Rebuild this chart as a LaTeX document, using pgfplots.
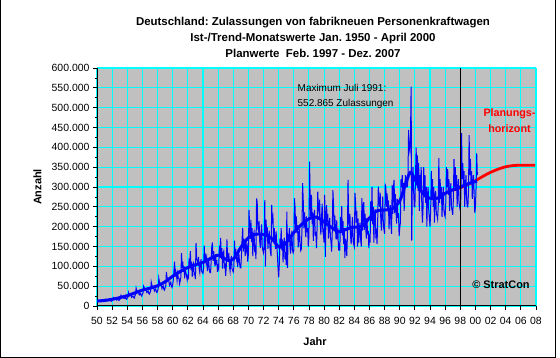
\documentclass[border=0pt]{standalone}
\usepackage{pgfplots}
\pgfplotsset{compat=1.18}
\usepackage{pgfplotstable}
\usepackage{fontspec}
\setmainfont{Liberation Sans}
\frenchspacing
\definecolor{plotbg}{HTML}{C0C0C0}
\definecolor{gridc}{HTML}{00FFFF}
\definecolor{frameg}{HTML}{808080}
\definecolor{dblue}{HTML}{0000FF}
\definecolor{dred}{HTML}{FF0000}

% monthly registrations, thousands, Jan 1950 - Apr 2000 (one line per year)
\pgfplotstableread[row sep=\\]{
v\\
10\\11\\13\\13\\13\\12\\12\\11\\12\\13\\12\\11\\
12\\13\\17\\16\\15\\15\\14\\13\\14\\15\\13\\12\\
14\\15\\21\\19\\18\\17\\17\\15\\16\\17\\15\\14\\
17\\18\\27\\24\\23\\22\\21\\19\\20\\21\\18\\17\\
20\\22\\34\\29\\28\\27\\26\\22\\24\\25\\22\\20\\
25\\28\\45\\38\\36\\34\\33\\28\\30\\32\\27\\25\\
30\\33\\50\\46\\43\\41\\40\\34\\36\\38\\32\\30\\
34\\37\\60\\52\\50\\47\\45\\38\\41\\43\\36\\34\\
39\\43\\70\\60\\58\\55\\53\\44\\48\\51\\42\\40\\
46\\51\\86\\72\\70\\65\\62\\52\\56\\60\\50\\47\\
54\\66\\90\\112\\74\\86\\78\\64\\82\\70\\70\\56\\
64\\72\\133\\96\\112\\86\\100\\70\\92\\84\\76\\66\\
76\\72\\120\\98\\138\\92\\112\\74\\104\\108\\80\\82\\
68\\159\\120\\114\\108\\124\\94\\84\\104\\118\\88\\84\\
82\\94\\152\\114\\132\\110\\120\\88\\104\\116\\92\\84\\
84\\112\\150\\160\\114\\138\\120\\100\\130\\108\\112\\86\\
100\\94\\152\\126\\172\\120\\146\\94\\132\\138\\100\\104\\
76\\100\\168\\124\\118\\134\\100\\88\\110\\126\\94\\90\\
86\\98\\165\\122\\144\\122\\134\\98\\118\\132\\108\\96\\
96\\128\\168\\197\\138\\170\\150\\126\\168\\142\\150\\112\\
130\\242\\200\\170\\217\\162\\196\\126\\178\\186\\136\\146\\
118\\271\\262\\196\\190\\214\\162\\146\\180\\206\\150\\140\\
134\\152\\267\\99\\218\\180\\198\\144\\170\\190\\152\\136\\
126\\255\\216\\224\\162\\196\\172\\144\\188\\154\\130\\96\\
72\\104\\170\\148\\196\\140\\168\\110\\156\\172\\118\\136\\
104\\238\\96\\176\\170\\196\\150\\132\\166\\190\\140\\134\\
140\\272\\250\\190\\226\\184\\204\\148\\176\\194\\156\\140\\
144\\194\\310\\266\\196\\236\\204\\174\\226\\186\\196\\150\\
176\\364\\264\\222\\280\\208\\236\\164\\230\\242\\176\\186\\
146\\200\\288\\246\\236\\268\\202\\180\\224\\258\\190\\180\\
160\\280\\124\\226\\254\\212\\232\\170\\200\\222\\176\\160\\
137\\186\\292\\256\\188\\228\\198\\168\\216\\178\\186\\140\\
150\\140\\224\\186\\252\\178\\214\\156\\196\\121\\170\\158\\
126\\176\\318\\214\\204\\232\\176\\156\\194\\224\\164\\156\\
150\\285\\260\\210\\240\\150\\220\\160\\190\\210\\168\\150\\
272\\190\\250\\262\\192\\232\\200\\170\\222\\180\\190\\146\\
170\\160\\264\\214\\300\\206\\250\\160\\232\\244\\178\\186\\
156\\212\\301\\262\\250\\286\\214\\190\\240\\276\\204\\192\\
182\\305\\300\\250\\284\\240\\266\\194\\230\\254\\206\\182\\
305\\232\\300\\318\\234\\282\\246\\208\\270\\222\\234\\176\\
196\\210\\320\\300\\330\\280\\310\\240\\290\\330\\300\\300\\
300\\320\\444\\400\\390\\420\\553\\165\\320\\350\\290\\250\\
250\\330\\400\\310\\380\\290\\360\\240\\330\\300\\350\\250\\
210\\250\\350\\280\\330\\260\\300\\200\\280\\300\\240\\220\\
200\\240\\340\\270\\320\\250\\300\\210\\280\\290\\230\\230\\
220\\250\\373\\260\\320\\270\\300\\225\\270\\300\\240\\230\\
225\\260\\350\\300\\345\\280\\320\\240\\290\\310\\250\\240\\
230\\270\\370\\300\\350\\290\\330\\250\\300\\320\\260\\250\\
240\\280\\436\\320\\360\\300\\340\\250\\300\\330\\270\\250\\
250\\290\\431\\330\\370\\310\\340\\270\\310\\330\\280\\234\\
250\\300\\385\\330\\
}\rawdata

% trend, thousands
\pgfplotstableread{
x y
50 12.5
51 14
52 17
53 21
54 26
55 33
56 40
57 45
58 51
59 61
60 75
61 87
62 97
63 104
64 110
65 120
66 128
66.8 120
67.5 114
68.2 122
69 148
70 172
71 181
72 180
73 172
74.1 148
75 160
76 185
77 205
78 220
79 224
80 212
81 198
82 187
83 194
84 199
85 201
86 222
87 240
88 242
89 245
90 265
90.8 310
91.4 337
92 320
93 285
93.9 272
95 272
96 284
97 293
98 300
99 308
100.2 315
}\trend

% plan values, thousands
\pgfplotstableread{
x y
97.1 292
98 298
99 306
100 316
101 327
102 337
103 345
104 351
105 354
106 355
107 355
107.9 355
}\plan

\begin{document}
\begin{tikzpicture}
\useasboundingbox (0,0) rectangle (560bp,358bp);
\fill[white] (0,0) rectangle (560bp,358bp);
\draw[black, line width=1bp] (0.5bp,358bp) -- (0.5bp,0.5bp) -- (555.5bp,0.5bp) -- (555.5bp,358bp);
\begin{axis}[
  at={(97bp,52bp)}, anchor=south west,
  width=439bp, height=238bp, scale only axis,
  xmin=50, xmax=108, ymin=0, ymax=600000,
  axis x line*=bottom, axis y line*=left,
  axis line style={-, black, line width=1bp},
  axis background/.style={fill=plotbg, draw=frameg, line width=1bp},
  xtick={50,52,...,108},
  xticklabels={50,52,54,56,58,60,62,64,66,68,70,72,74,76,78,80,82,84,86,88,90,92,94,96,98,00,02,04,06,08},
  ytick={0,50000,...,600000},
  minor y tick num=1,
  tick align=outside,
  major tick length=4bp, minor tick length=2.5bp,
  tick style={black, line width=0.8bp},
  grid=major,
  major grid style={gridc, line width=1.1bp},
  scaled y ticks=false,
  /pgf/number format/assume math mode=true,
  yticklabel style={/pgf/number format/.cd, fixed, precision=0, 1000 sep={.}},
  xticklabel style={yshift=-4bp},
  tick label style={font=\fontsize{10.5}{12}\selectfont},
  clip=true,
]
\addplot[dred, line width=2.8bp, smooth] table[x=x, y expr=\thisrow{y}*1000] {\plan};
\addplot[dblue, line width=1bp, line join=miter] table[x index=0, y index=0, x expr=50+\coordindex/12, y expr=\thisrow{v}*1000] {\rawdata};
\addplot[dblue, line width=3bp, smooth, tension=0.5] table[x=x, y expr=\thisrow{y}*1000] {\trend};
\addplot[black, line width=1.2bp] coordinates {(98,0) (98,600000)};
\end{axis}
\node[font=\bfseries\fontsize{11.5}{16}\selectfont, align=center] at (313bp,320.5bp)
  {Deutschland: Zulassungen von fabrikneuen Personenkraftwagen\\Ist-/Trend-Monatswerte Jan. 1950 - April 2000\\Planwerte\ \ Feb. 1997 - Dez. 2007};
\node[font=\bfseries\fontsize{11}{13}\selectfont, rotate=90] at (37.5bp,171bp) {Anzahl};
\node[font=\bfseries\fontsize{11}{13}\selectfont] at (315bp,16bp) {Jahr};
\node[font=\fontsize{10}{15}\selectfont, align=left, anchor=west, inner sep=0pt] at (297.5bp,261.5bp)
  {Maximum Juli 1991:\\552.865 Zulassungen};
\node[font=\bfseries\fontsize{10.8}{16}\selectfont, align=center, text=dred] at (509.5bp,237bp)
  {Planungs-\\horizont};
\node[font=\bfseries\fontsize{11}{13}\selectfont] at (501bp,73bp) {© StratCon};
\end{tikzpicture}
\end{document}
